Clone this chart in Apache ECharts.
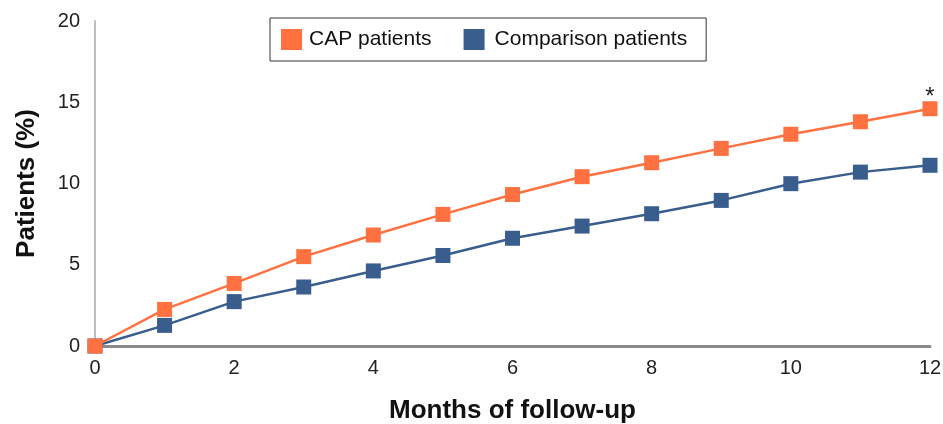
<!DOCTYPE html>
<html>
<head>
<meta charset="utf-8">
<script src="https://cdn.jsdelivr.net/npm/echarts@6/dist/echarts.min.js"></script>
<style>html,body{margin:0;padding:0;background:#fff;}#c{width:943px;height:424px;}</style>
</head>
<body>
<div id="c"></div>
<script>
var months = [0,1,2,3,4,5,6,7,8,9,10,11,12];
var capPatients = [0,2.25,3.85,5.5,6.83,8.1,9.32,10.42,11.28,12.16,13.03,13.8,14.6];
var comparisonPatients = [0,1.27,2.73,3.63,4.62,5.57,6.63,7.38,8.14,8.96,9.99,10.7,11.12];
var seriesNames = ['CAP patients','Comparison patients'];
var asteriskLabel = '*';

function pairs(vals){ return months.map(function(m,i){ return [m, vals[i]]; }); }
var capData = pairs(capPatients);
capData[capData.length-1] = {value: capData[capData.length-1], label:{show:true, formatter: asteriskLabel, position:'top', distance:-8, fontSize:24, color:'#222', fontFamily:'Liberation Sans'}};

var chart = echarts.init(document.getElementById('c'), null, {renderer:'canvas'});
chart.setOption({
  animation:false,
  textStyle:{fontFamily:'Liberation Sans'},
  grid:{left:95, right:13, top:21, bottom:78, outerBoundsMode:'none', containLabel:false},
  legend:{
    data:[
      {name:seriesNames[0], textStyle:{padding:[0,0,0,2]}},
      {name:seriesNames[1], textStyle:{padding:[0,0,0,5]}}
    ],
    left:270, top:18, orient:'horizontal',
    icon:'rect', itemWidth:21, itemHeight:21, itemGap:32,
    borderColor:'#333', borderWidth:1, padding:[11,19,11,11],
    textStyle:{fontSize:21, color:'#111', fontFamily:'Liberation Sans'}
  },
  xAxis:{
    type:'value', min:0, max:12, interval:2,
    name:'Months of follow-up', nameLocation:'middle', nameGap:52,
    nameTextStyle:{fontSize:26, fontWeight:'bold', color:'#111', fontFamily:'Liberation Sans'},
    axisLine:{show:true, lineStyle:{color:'#8a8a8a', width:3}},
    axisTick:{show:false}, splitLine:{show:false},
    axisLabel:{fontSize:20, color:'#222', margin:12}
  },
  yAxis:{
    type:'value', min:0, max:20, interval:5,
    name:'Patients (%)', nameLocation:'middle', nameGap:55,
    nameTextStyle:{fontSize:26, fontWeight:'bold', color:'#111', fontFamily:'Liberation Sans'},
    axisLine:{show:true, lineStyle:{color:'#bdbdbd', width:2}},
    axisTick:{show:false}, splitLine:{show:false},
    axisLabel:{fontSize:20, color:'#222', margin:15}
  },
  series:[
    {name:seriesNames[1], type:'line', data:pairs(comparisonPatients), symbol:'rect', symbolSize:15,
     lineStyle:{color:'#395d8c', width:2.5}, itemStyle:{color:'#395d8c'}, z:2},
    {name:seriesNames[0], type:'line', data:capData, symbol:'rect', symbolSize:15,
     lineStyle:{color:'#ff7141', width:2.5}, itemStyle:{color:'#ff7141'}, z:3}
  ]
});
</script>
</body>
</html>
